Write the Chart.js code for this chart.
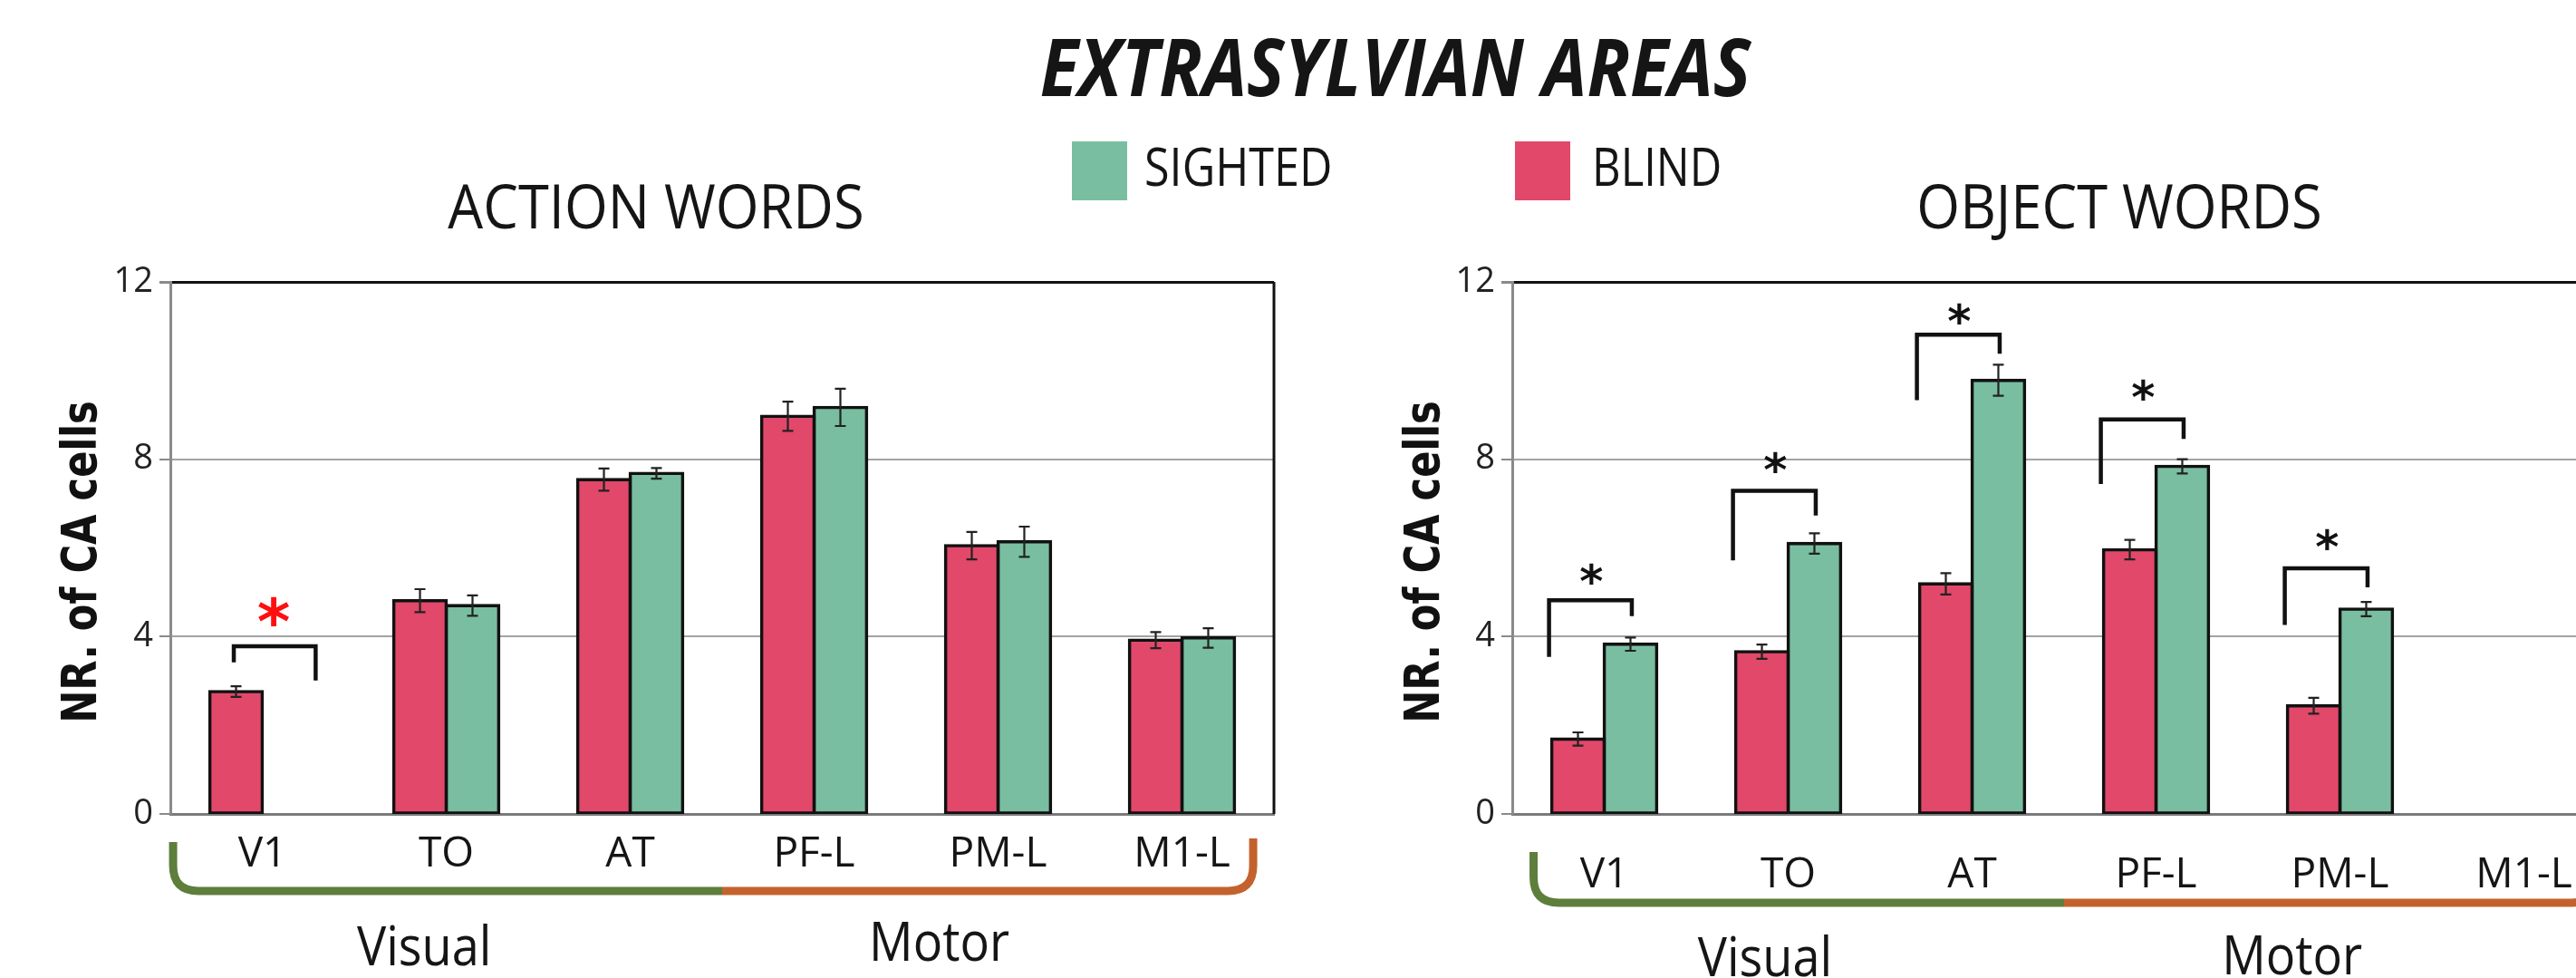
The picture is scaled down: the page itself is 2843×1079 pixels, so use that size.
<!DOCTYPE html>
<html><head><meta charset="utf-8">
<script src="https://cdn.jsdelivr.net/npm/chart.js@4.4.1/dist/chart.umd.min.js"></script>
<style>
html,body{margin:0;padding:0;background:#fff;overflow:hidden;width:2843px;height:1079px;}
#wrap{position:relative;width:2843px;height:1079px;overflow:hidden;background:#fff;}
canvas{position:absolute;top:0;}
.t{position:absolute;white-space:nowrap;font-family:'Open Sans';line-height:1;color:#151515;}
.sq{position:absolute;}
</style></head><body>
<div id="wrap">
<canvas id="c1" width="1450" height="1079" style="left:0;width:1450px;height:1079px"></canvas>
<canvas id="c2" width="1450" height="1079" style="left:1450px;width:1450px;height:1079px"></canvas>
<div class="t" style="left:1040px;width:1000px;text-align:center;top:28px;font-size:88px;font-weight:700;font-style:italic;transform:scaleX(0.89);">EXTRASYLVIAN AREAS</div>
<div class="sq" style="left:1183px;top:156px;width:61px;height:65px;background:#79BEA1"></div>
<div class="t" style="left:1263px;top:152.6px;font-size:59px;transform-origin:0 0;transform:scaleX(0.853);">SIGHTED</div>
<div class="sq" style="left:1672px;top:156px;width:61px;height:65px;background:#E2486A"></div>
<div class="t" style="left:1757px;top:152.6px;font-size:59px;transform-origin:0 0;transform:scaleX(0.83);">BLIND</div>
<div class="t" style="left:224px;width:1000px;text-align:center;top:192.5px;font-size:67px;transform:scaleX(0.917);">ACTION WORDS</div>
<div class="t" style="left:1839px;width:1000px;text-align:center;top:192.5px;font-size:67px;transform:scaleX(0.917);">OBJECT WORDS</div>
</div>
<script>
// ---------- data ----------
const categories = ['V1', 'TO', 'AT', 'PF-L', 'PM-L', 'M1-L'];
const yTickValues = [0, 4, 8, 12];

const actionBlind      = [2.76, 4.81, 7.54, 8.97, 6.05, 3.92];
const actionSighted    = [null, 4.70, 7.68, 9.17, 6.14, 3.97];
const actionBlindErr   = [0.12, 0.26, 0.25, 0.33, 0.31, 0.18];
const actionSightedErr = [null, 0.23, 0.12, 0.42, 0.34, 0.22];

const objectBlind      = [1.69, 3.66, 5.19, 5.96, 2.44, null];
const objectSighted    = [3.83, 6.10, 9.78, 7.84, 4.62, null];
const objectBlindErr   = [0.15, 0.16, 0.24, 0.22, 0.18, null];
const objectSightedErr = [0.15, 0.23, 0.35, 0.16, 0.16, null];

// significance brackets (category index, bracket top, left end, right end, star level)
const actionSigIdx   = [0];
const actionSigTop   = [3.78];
const actionSigLeft  = [3.42];
const actionSigRight = [3.01];
const actionSigStar  = [4.62];

const objectSigIdx   = [0, 1, 2, 3, 4];
const objectSigTop   = [4.82, 7.29, 10.81, 8.90, 5.54];
const objectSigLeft  = [3.54, 5.72, 9.33, 7.44, 4.26];
const objectSigRight = [4.46, 6.73, 10.38, 8.46, 5.11];
const objectSigStar  = [5.45, 7.98, 11.33, 9.60, 6.24];

const groupLabels = ['Visual', 'Motor'];
const yTitle = 'NR. of CA cells';

// ---------- styles ----------
const PINK = '#E2486A', GREEN = '#79BEA1';
const BRACE_GREEN = '#5E7E3C', BRACE_ORANGE = '#C4622D';

function annotations(cfg) {
  return {
    id: 'annot',
    afterDatasetsDraw(chart) {
      const ctx = chart.ctx, xs = chart.scales.x, ys = chart.scales.y, ca = chart.chartArea;
      ctx.save();
      // right border of plot
      ctx.strokeStyle = '#111'; ctx.lineWidth = 3;
      ctx.beginPath(); ctx.moveTo(ca.right, ca.top); ctx.lineTo(ca.right, ca.bottom); ctx.stroke();
      // error bars
      ctx.strokeStyle = '#222'; ctx.lineWidth = 2.2;
      [cfg.blindErr, cfg.sightedErr].forEach((errs, di) => {
        const meta = chart.getDatasetMeta(di);
        const vals = chart.data.datasets[di].data;
        meta.data.forEach((bar, j) => {
          if (vals[j] == null || errs[j] == null) return;
          const x = bar.x;
          const y1 = ys.getPixelForValue(vals[j] + errs[j]);
          const y2 = ys.getPixelForValue(vals[j] - errs[j]);
          ctx.beginPath();
          ctx.moveTo(x, y1); ctx.lineTo(x, y2);
          ctx.moveTo(x - 6, y1); ctx.lineTo(x + 6, y1);
          ctx.moveTo(x - 6, y2); ctx.lineTo(x + 6, y2);
          ctx.stroke();
        });
      });
      // brackets + stars
      ctx.strokeStyle = '#111'; ctx.lineWidth = 4.5; ctx.lineJoin = 'miter'; ctx.lineCap = 'butt';
      cfg.sigIdx.forEach((idx, k) => {
        const xl = xs.getPixelForValue(idx + cfg.brL);
        const xr = xs.getPixelForValue(idx + cfg.brR);
        ctx.beginPath();
        ctx.moveTo(xl, ys.getPixelForValue(cfg.sigLeft[k]));
        ctx.lineTo(xl, ys.getPixelForValue(cfg.sigTop[k]));
        ctx.lineTo(xr, ys.getPixelForValue(cfg.sigTop[k]));
        ctx.lineTo(xr, ys.getPixelForValue(cfg.sigRight[k]));
        ctx.stroke();
        ctx.fillStyle = cfg.starColor;
        ctx.font = cfg.starFont;
        ctx.textAlign = 'center'; ctx.textBaseline = 'alphabetic';
        ctx.fillText('*', xs.getPixelForValue(idx + cfg.starDx), ys.getPixelForValue(cfg.sigStar[k]) + cfg.starShift);
      });
      // brace under categories
      const by = cfg.braceY, r = 28;
      const bl = xs.getPixelForValue(cfg.braceL), bm = xs.getPixelForValue(2.5), br = xs.getPixelForValue(cfg.braceR);
      ctx.lineWidth = 9; ctx.lineCap = 'butt';
      ctx.strokeStyle = BRACE_GREEN;
      ctx.beginPath();
      ctx.moveTo(bl, cfg.braceTopL);
      ctx.lineTo(bl, by - r);
      ctx.quadraticCurveTo(bl, by, bl + r, by);
      ctx.lineTo(bm, by);
      ctx.stroke();
      ctx.strokeStyle = BRACE_ORANGE;
      ctx.beginPath();
      ctx.moveTo(bm, by);
      ctx.lineTo(br - r, by);
      ctx.quadraticCurveTo(br, by, br, by - r);
      ctx.lineTo(br, cfg.braceTopR);
      ctx.stroke();
      // group labels
      ctx.fillStyle = '#151515';
      ctx.font = '60px "Open Sans"';
      ctx.textAlign = 'center'; ctx.textBaseline = 'alphabetic';
      [[groupLabels[0], cfg.visIdx, cfg.visBase], [groupLabels[1], cfg.motIdx, cfg.motBase]].forEach(([t, i, b]) => {
        ctx.save();
        ctx.translate(xs.getPixelForValue(i), b);
        ctx.scale(0.9, 1);
        ctx.fillText(t, 0, 0);
        ctx.restore();
      });
      // y-axis title
      ctx.save();
      ctx.translate(cfg.yTitleX, 620);
      ctx.rotate(-Math.PI / 2);
      ctx.scale(0.8, 1);
      ctx.font = 'bold 54px "DejaVu Sans"';
      ctx.fillStyle = '#111';
      ctx.textAlign = 'center'; ctx.textBaseline = 'alphabetic';
      ctx.fillText(yTitle, 0, 0);
      ctx.restore();
      ctx.restore();
    }
  };
}

function makeChart(id, blind, sighted, layoutCfg, cfg) {
  return new Chart(document.getElementById(id), {
    type: 'bar',
    data: {
      labels: categories,
      datasets: [
        { label: 'BLIND', data: blind, backgroundColor: PINK, borderColor: '#111', borderWidth: 3.6, borderSkipped: false, inflateAmount: 1.8 },
        { label: 'SIGHTED', data: sighted, backgroundColor: GREEN, borderColor: '#111', borderWidth: 3.6, borderSkipped: false, inflateAmount: 1.8 }
      ]
    },
    options: {
      responsive: false, animation: false, events: [],
      layout: { padding: { top: 311, left: 0, right: layoutCfg.padRight, bottom: 0 } },
      datasets: { bar: { categoryPercentage: 0.571, barPercentage: 1 } },
      plugins: { legend: { display: false }, tooltip: { enabled: false }, title: { display: false } },
      scales: {
        x: {
          grid: { display: false, drawTicks: false },
          border: { display: true, color: '#7a7a7a', width: 3 },
          ticks: { font: { family: 'Open Sans', size: 46 }, color: '#151515', padding: layoutCfg.xPad, maxRotation: 0, autoSkip: false },
          afterFit(s) { s.height = 181; }
        },
        y: {
          min: 0, max: 12,
          afterBuildTicks(s) { s.ticks = yTickValues.map(v => ({ value: v })); },
          ticks: { font: { family: 'Open Sans', size: 38 }, color: '#222', padding: 7 },
          grid: {
            color: c => (c.tick && c.tick.value === 12) ? '#111' : '#a3a3a3',
            lineWidth: c => (c.tick && c.tick.value === 12) ? 3 : 2,
            tickColor: '#8a8a8a', tickLength: 12, drawTicks: true
          },
          border: { display: true, color: '#8a8a8a', width: 3 },
          afterFit(s) { s.width = layoutCfg.yWidth; }
        }
      }
    },
    plugins: [annotations(cfg)]
  });
}

function draw() {
  makeChart('c1', actionBlind, actionSighted, { padRight: 44, yWidth: 188, xPad: 17 }, {
    blindErr: actionBlindErr, sightedErr: actionSightedErr,
    sigIdx: actionSigIdx, sigTop: actionSigTop, sigLeft: actionSigLeft, sigRight: actionSigRight, sigStar: actionSigStar,
    brL: -0.155, brR: 0.29, starDx: 0.062, starColor: '#ff1010', starFont: 'bold 70px "DejaVu Sans"', starShift: 38,
    braceL: -0.485, braceR: 5.387, braceY: 983, braceTopL: 929, braceTopR: 925,
    visIdx: 0.88, visBase: 1065, motIdx: 3.68, motBase: 1060, yTitleX: 106
  });
  makeChart('c2', objectBlind, objectSighted, { padRight: 13, yWidth: 219, xPad: 40 }, {
    blindErr: objectBlindErr, sightedErr: objectSightedErr,
    sigIdx: objectSigIdx, sigTop: objectSigTop, sigLeft: objectSigLeft, sigRight: objectSigRight, sigStar: objectSigStar,
    brL: -0.30, brR: 0.15, starDx: -0.07, starColor: '#111', starFont: 'bold 50px "DejaVu Sans"', starShift: 28,
    braceL: -0.384, braceR: 5.4, braceY: 996, braceTopL: 940, braceTopR: 940,
    visIdx: 0.874, visBase: 1077, motIdx: 3.74, motBase: 1075, yTitleX: 138
  });
}

Promise.all([
  document.fonts.load('40px "Open Sans"'),
  document.fonts.load('bold italic 88px "Open Sans"'),
  document.fonts.load('bold 54px "DejaVu Sans"')
]).then(draw, draw);
</script>
</body></html>
